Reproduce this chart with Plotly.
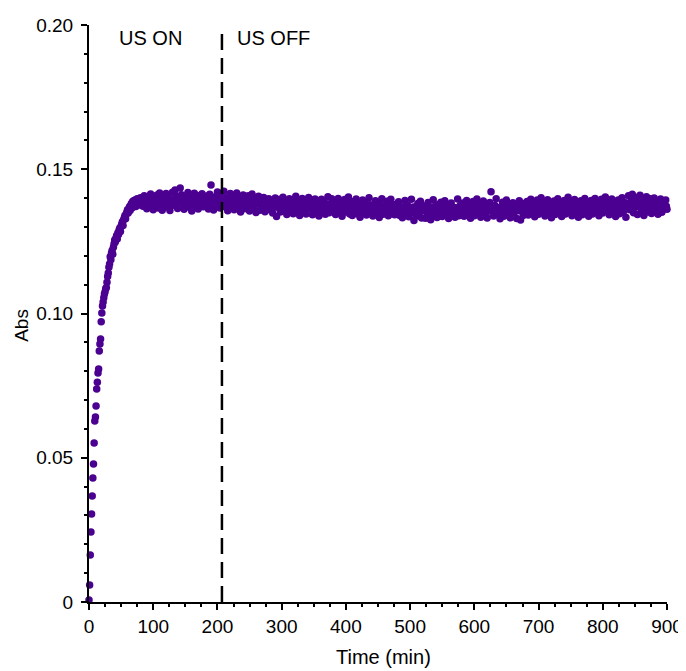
import plotly.graph_objects as go

# ---------------- data ----------------
# rise phase, sampled every 1 min from t = 0 to 80 min
rise_abs = [
    0.0007, 0.0059, 0.0163, 0.0243, 0.0305, 0.0367, 0.0430, 0.0478, 0.0551, 0.0627,
    0.0641, 0.0679, 0.0738, 0.0762, 0.0794, 0.0808, 0.0870, 0.0894, 0.0912, 0.0971,
    0.1002, 0.1026, 0.1040, 0.1055, 0.1068, 0.1075, 0.1086, 0.1090, 0.1108, 0.1128,
    0.1140, 0.1160, 0.1172, 0.1197, 0.1186, 0.1210, 0.1218, 0.1205, 0.1230, 0.1242,
    0.1255, 0.1248, 0.1262, 0.1270, 0.1258, 0.1280, 0.1274, 0.1290, 0.1296, 0.1284,
    0.1302, 0.1310, 0.1318, 0.1305, 0.1325, 0.1332, 0.1340, 0.1328, 0.1345, 0.1352,
    0.1360, 0.1348, 0.1362, 0.1370, 0.1357, 0.1374, 0.1381, 0.1366, 0.1388, 0.1375,
    0.1392, 0.1380, 0.1393, 0.1371, 0.1386, 0.1398, 0.1384, 0.1376, 0.1395, 0.1388,
    0.1401,
]
rise_start, rise_step = 0, 1

# plateau, even minutes (every 2 min), one list per segment
seg_082_180 = [
    0.1395, 0.1372, 0.1408, 0.1381, 0.1363, 0.1402, 0.1377, 0.1414, 0.1389, 0.1360,
    0.1399, 0.1374, 0.1411, 0.1366, 0.1418, 0.1385, 0.1358, 0.1404, 0.1379, 0.1416,
    0.1369, 0.1401, 0.1357, 0.1392, 0.1420, 0.1375, 0.1428, 0.1406, 0.1364, 0.1397,
    0.1435, 0.1412, 0.1380, 0.1361, 0.1403, 0.1386, 0.1419, 0.1368, 0.1400, 0.1355,
    0.1394, 0.1417, 0.1373, 0.1409, 0.1362, 0.1398, 0.1384, 0.1415, 0.1370, 0.1405,
]
seg_182_280 = [
    0.1378, 0.1407, 0.1362, 0.1413, 0.1445, 0.1390, 0.1359, 0.1404, 0.1374, 0.1421,
    0.1393, 0.1366, 0.1410, 0.1381, 0.1424, 0.1370, 0.1401, 0.1356, 0.1396, 0.1416,
    0.1372, 0.1405, 0.1360, 0.1392, 0.1418, 0.1368, 0.1399, 0.1352, 0.1387, 0.1411,
    0.1363, 0.1397, 0.1376, 0.1408, 0.1355, 0.1383, 0.1414, 0.1367, 0.1394, 0.1350,
    0.1380, 0.1406, 0.1358, 0.1391, 0.1371, 0.1402, 0.1353, 0.1385, 0.1365, 0.1398,
]
seg_282_380 = [
    0.1360, 0.1391, 0.1348, 0.1380, 0.1400, 0.1336, 0.1369, 0.1395, 0.1352, 0.1384,
    0.1403, 0.1357, 0.1389, 0.1343, 0.1375, 0.1398, 0.1362, 0.1393, 0.1346, 0.1382,
    0.1406, 0.1358, 0.1387, 0.1340, 0.1371, 0.1399, 0.1354, 0.1390, 0.1345, 0.1378,
    0.1402, 0.1363, 0.1394, 0.1342, 0.1376, 0.1397, 0.1350, 0.1385, 0.1338, 0.1368,
    0.1396, 0.1356, 0.1388, 0.1344, 0.1379, 0.1405, 0.1349, 0.1373, 0.1398, 0.1359,
]
seg_382_480 = [
    0.1390, 0.1343, 0.1374, 0.1399, 0.1348, 0.1381, 0.1337, 0.1366, 0.1395, 0.1352,
    0.1384, 0.1404, 0.1345, 0.1372, 0.1340, 0.1388, 0.1357, 0.1397, 0.1346, 0.1377,
    0.1334, 0.1368, 0.1393, 0.1350, 0.1383, 0.1341, 0.1370, 0.1401, 0.1347, 0.1375,
    0.1338, 0.1362, 0.1391, 0.1349, 0.1380, 0.1333, 0.1369, 0.1398, 0.1344, 0.1373,
    0.1355, 0.1389, 0.1339, 0.1364, 0.1396, 0.1346, 0.1378, 0.1342, 0.1371, 0.1358,
]
seg_482_580 = [
    0.1387, 0.1340, 0.1369, 0.1332, 0.1356, 0.1392, 0.1344, 0.1375, 0.1335, 0.1361,
    0.1396, 0.1348, 0.1322, 0.1366, 0.1338, 0.1381, 0.1343, 0.1389, 0.1331, 0.1359,
    0.1373, 0.1330, 0.1353, 0.1385, 0.1339, 0.1325, 0.1364, 0.1394, 0.1342, 0.1358,
    0.1333, 0.1378, 0.1350, 0.1386, 0.1336, 0.1363, 0.1391, 0.1341, 0.1370, 0.1329,
    0.1355, 0.1383, 0.1345, 0.1367, 0.1334, 0.1362, 0.1397, 0.1339, 0.1374, 0.1352,
]
seg_582_680 = [
    0.1383, 0.1337, 0.1366, 0.1392, 0.1342, 0.1371, 0.1330, 0.1356, 0.1388, 0.1339,
    0.1364, 0.1397, 0.1345, 0.1377, 0.1334, 0.1360, 0.1390, 0.1341, 0.1372, 0.1331,
    0.1354, 0.1385, 0.1422, 0.1363, 0.1338, 0.1374, 0.1398, 0.1343, 0.1367, 0.1328,
    0.1358, 0.1386, 0.1337, 0.1369, 0.1393, 0.1344, 0.1376, 0.1332, 0.1357, 0.1384,
    0.1350, 0.1373, 0.1329, 0.1362, 0.1391, 0.1324, 0.1366, 0.1340, 0.1381, 0.1353,
]
seg_682_780 = [
    0.1388, 0.1341, 0.1372, 0.1396, 0.1347, 0.1378, 0.1335, 0.1363, 0.1393, 0.1344,
    0.1374, 0.1401, 0.1352, 0.1380, 0.1338, 0.1367, 0.1394, 0.1348, 0.1379, 0.1332,
    0.1361, 0.1390, 0.1343, 0.1371, 0.1398, 0.1350, 0.1382, 0.1336, 0.1366, 0.1392,
    0.1345, 0.1375, 0.1403, 0.1355, 0.1384, 0.1339, 0.1370, 0.1395, 0.1349, 0.1379,
    0.1334, 0.1364, 0.1391, 0.1342, 0.1373, 0.1399, 0.1353, 0.1381, 0.1337, 0.1368,
]
seg_782_900 = [
    0.1392, 0.1345, 0.1377, 0.1399, 0.1351, 0.1383, 0.1339, 0.1368, 0.1396, 0.1348,
    0.1379, 0.1404, 0.1355, 0.1386, 0.1342, 0.1371, 0.1397, 0.1350, 0.1381, 0.1336,
    0.1365, 0.1393, 0.1346, 0.1375, 0.1401, 0.1353, 0.1385, 0.1334, 0.1370, 0.1408,
    0.1360, 0.1389, 0.1413, 0.1349, 0.1380, 0.1402, 0.1343, 0.1374, 0.1410, 0.1357,
    0.1387, 0.1340, 0.1369, 0.1405, 0.1352, 0.1383, 0.1398, 0.1347, 0.1378, 0.1400,
    0.1358, 0.1390, 0.1344, 0.1376, 0.1397, 0.1351, 0.1384, 0.1366, 0.1393, 0.1361,
]

# plateau, odd minutes (every 2 min), the dense core of the band
odd_083_181 = [
    0.1388, 0.1395, 0.1383, 0.1392, 0.1398, 0.1386, 0.1391, 0.1380, 0.1394, 0.1389,
    0.1385, 0.1397, 0.1390, 0.1382, 0.1393, 0.1387, 0.1399, 0.1384, 0.1391, 0.1388,
    0.1396, 0.1381, 0.1392, 0.1386, 0.1394, 0.1390, 0.1383, 0.1398, 0.1387, 0.1392,
    0.1389, 0.1395, 0.1384, 0.1391, 0.1386, 0.1397, 0.1382, 0.1393, 0.1388, 0.1394,
    0.1385, 0.1390, 0.1396, 0.1383, 0.1392, 0.1387, 0.1395, 0.1389, 0.1384, 0.1391,
]
odd_183_281 = [
    0.1384, 0.1391, 0.1379, 0.1388, 0.1394, 0.1382, 0.1387, 0.1376, 0.1390, 0.1385,
    0.1381, 0.1393, 0.1386, 0.1378, 0.1389, 0.1383, 0.1395, 0.1380, 0.1387, 0.1384,
    0.1392, 0.1377, 0.1388, 0.1382, 0.1390, 0.1386, 0.1379, 0.1394, 0.1383, 0.1388,
    0.1385, 0.1391, 0.1380, 0.1387, 0.1382, 0.1393, 0.1378, 0.1389, 0.1384, 0.1390,
    0.1381, 0.1386, 0.1392, 0.1379, 0.1388, 0.1383, 0.1391, 0.1385, 0.1380, 0.1387,
]
odd_283_381 = [
    0.1372, 0.1379, 0.1367, 0.1376, 0.1382, 0.1370, 0.1375, 0.1364, 0.1378, 0.1373,
    0.1369, 0.1381, 0.1374, 0.1366, 0.1377, 0.1371, 0.1383, 0.1368, 0.1375, 0.1372,
    0.1380, 0.1365, 0.1376, 0.1370, 0.1378, 0.1374, 0.1367, 0.1382, 0.1371, 0.1376,
    0.1373, 0.1379, 0.1368, 0.1375, 0.1370, 0.1381, 0.1366, 0.1377, 0.1372, 0.1378,
    0.1369, 0.1374, 0.1380, 0.1367, 0.1376, 0.1371, 0.1379, 0.1373, 0.1368, 0.1375,
]
odd_383_481 = [
    0.1367, 0.1374, 0.1362, 0.1371, 0.1377, 0.1365, 0.1370, 0.1359, 0.1373, 0.1368,
    0.1364, 0.1376, 0.1369, 0.1361, 0.1372, 0.1366, 0.1378, 0.1363, 0.1370, 0.1367,
    0.1375, 0.1360, 0.1371, 0.1365, 0.1373, 0.1369, 0.1362, 0.1377, 0.1366, 0.1371,
    0.1368, 0.1374, 0.1363, 0.1370, 0.1365, 0.1376, 0.1361, 0.1372, 0.1367, 0.1373,
    0.1364, 0.1369, 0.1375, 0.1362, 0.1371, 0.1366, 0.1374, 0.1368, 0.1363, 0.1370,
]
odd_483_581 = [
    0.1360, 0.1367, 0.1355, 0.1364, 0.1370, 0.1358, 0.1363, 0.1352, 0.1366, 0.1361,
    0.1357, 0.1369, 0.1362, 0.1354, 0.1365, 0.1359, 0.1371, 0.1356, 0.1363, 0.1360,
    0.1368, 0.1353, 0.1364, 0.1358, 0.1366, 0.1362, 0.1355, 0.1370, 0.1359, 0.1364,
    0.1361, 0.1367, 0.1356, 0.1363, 0.1358, 0.1369, 0.1354, 0.1365, 0.1360, 0.1366,
    0.1357, 0.1362, 0.1368, 0.1355, 0.1364, 0.1359, 0.1367, 0.1361, 0.1356, 0.1363,
]
odd_583_681 = [
    0.1365, 0.1358, 0.1368, 0.1361, 0.1356, 0.1370, 0.1363, 0.1357, 0.1366, 0.1360,
    0.1371, 0.1355, 0.1364, 0.1359, 0.1367, 0.1362, 0.1369, 0.1354, 0.1365, 0.1361,
    0.1358, 0.1368, 0.1363, 0.1356, 0.1370, 0.1360, 0.1366, 0.1357, 0.1364, 0.1359,
    0.1367, 0.1362, 0.1355, 0.1369, 0.1361, 0.1365, 0.1358, 0.1371, 0.1363, 0.1357,
    0.1366, 0.1360, 0.1368, 0.1356, 0.1364, 0.1359, 0.1370, 0.1362, 0.1357, 0.1365,
]
odd_683_781 = [
    0.1369, 0.1362, 0.1372, 0.1365, 0.1360, 0.1374, 0.1367, 0.1361, 0.1370, 0.1364,
    0.1375, 0.1359, 0.1368, 0.1363, 0.1371, 0.1366, 0.1373, 0.1358, 0.1369, 0.1365,
    0.1362, 0.1372, 0.1367, 0.1360, 0.1374, 0.1364, 0.1370, 0.1361, 0.1368, 0.1363,
    0.1371, 0.1366, 0.1359, 0.1373, 0.1365, 0.1369, 0.1362, 0.1375, 0.1367, 0.1361,
    0.1370, 0.1364, 0.1372, 0.1360, 0.1368, 0.1363, 0.1374, 0.1366, 0.1361, 0.1369,
]
odd_783_899 = [
    0.1373, 0.1366, 0.1376, 0.1369, 0.1364, 0.1378, 0.1371, 0.1365, 0.1374, 0.1368,
    0.1379, 0.1363, 0.1372, 0.1367, 0.1375, 0.1370, 0.1377, 0.1362, 0.1373, 0.1369,
    0.1366, 0.1376, 0.1371, 0.1364, 0.1378, 0.1368, 0.1374, 0.1365, 0.1372, 0.1380,
    0.1375, 0.1370, 0.1383, 0.1377, 0.1369, 0.1381, 0.1373, 0.1378, 0.1384, 0.1371,
    0.1376, 0.1368, 0.1379, 0.1374, 0.1382, 0.1370, 0.1377, 0.1372, 0.1367, 0.1375,
    0.1369, 0.1378, 0.1373, 0.1366, 0.1376, 0.1371, 0.1374, 0.1368, 0.1372,
]

plateau_segments = [
    (82, seg_082_180), (182, seg_182_280), (282, seg_282_380), (382, seg_382_480),
    (482, seg_482_580), (582, seg_582_680), (682, seg_682_780), (782, seg_782_900),
    (83, odd_083_181), (183, odd_183_281), (283, odd_283_381), (383, odd_383_481),
    (483, odd_483_581), (583, odd_583_681), (683, odd_683_781), (783, odd_783_899),
]
plateau_step = 2

us_off_time = 207
x_ticks = [0, 100, 200, 300, 400, 500, 600, 700, 800, 900]
y_ticks = [0, 0.05, 0.10, 0.15, 0.20]
y_tick_labels = ["0", "0.05", "0.10", "0.15", "0.20"]
label_on = "US ON"
label_off = "US OFF"
x_title = "Time (min)"
y_title = "Abs"

# ---------------- assemble sample grid ----------------
pairs = [(rise_start + i * rise_step, v) for i, v in enumerate(rise_abs)]
for start, vals in plateau_segments:
    pairs += [(start + i * plateau_step, v) for i, v in enumerate(vals)]
pairs.sort()
time = [p[0] for p in pairs]
absorb = [p[1] for p in pairs]

color = "#4b0091"
font = "Liberation Sans, Arial, sans-serif"

fig = go.Figure()
fig.add_trace(go.Scatter(
    x=time, y=absorb, mode="markers",
    marker=dict(color=color, size=7.5, line=dict(width=0)),
    cliponaxis=False, showlegend=False,
))

fig.add_shape(type="line", x0=us_off_time, x1=us_off_time, y0=0, y1=0.199,
              xref="x", yref="y",
              line=dict(color="black", width=2.5, dash="16px,8px"))

fig.add_annotation(x=95, y=0.1955, text=label_on, showarrow=False,
                   xref="x", yref="y", font=dict(size=20, color="black", family=font))
fig.add_annotation(x=228, y=0.1955, text=label_off, showarrow=False, xanchor="left",
                   xref="x", yref="y", font=dict(size=20, color="black", family=font))

# axis titles as annotations for exact placement
fig.add_annotation(x=0.509, y=-0.0953, xref="paper", yref="paper", text=x_title,
                   showarrow=False, font=dict(size=20, color="black", family=font),
                   xanchor="center", yanchor="middle")
fig.add_annotation(x=-0.118, y=0.48, xref="paper", yref="paper", text=y_title,
                   showarrow=False, textangle=-90,
                   font=dict(size=19, color="black", family=font),
                   xanchor="center", yanchor="middle")

# the page places the figure 8px from the top-left corner
fig.update_layout(
    width=678, height=663,
    margin=dict(l=81, r=19, t=17, b=69, autoexpand=False),
    paper_bgcolor="white", plot_bgcolor="white",
    font=dict(family=font, size=19, color="black"),
)
fig.update_xaxes(
    range=[0, 900], tickvals=x_ticks, showgrid=False, zeroline=False, automargin=False,
    showline=True, linecolor="black", linewidth=2,
    ticks="outside", ticklen=6, tickwidth=1.5, tickcolor="black",
    minor=dict(dtick=25, ticks="outside", ticklen=3, tickwidth=1.5, tickcolor="black"),
    tickfont=dict(size=19),
)
fig.update_yaxes(
    range=[0, 0.20], tickvals=y_ticks, ticktext=y_tick_labels,
    showgrid=False, zeroline=False, automargin=False,
    showline=True, linecolor="black", linewidth=2,
    ticks="outside", ticklen=6, tickwidth=1.5, tickcolor="black",
    minor=dict(dtick=0.01, ticks="outside", ticklen=3, tickwidth=1.5, tickcolor="black"),
    tickfont=dict(size=19), ticklabelstandoff=4,
)

fig.write_html("out.html")
